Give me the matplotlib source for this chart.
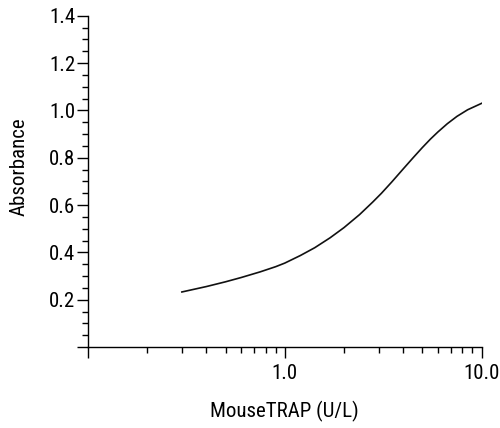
import matplotlib
matplotlib.use("Agg")
import matplotlib.pyplot as plt
from matplotlib.ticker import FixedLocator, MultipleLocator, NullFormatter

# values
conc = [0.3, 0.4, 0.5, 0.6, 0.75, 0.9, 1.0, 1.2, 1.42, 1.7, 2.0, 2.4, 2.8,
        3.1, 3.5, 4.0, 4.5, 5.0, 5.5, 6.0, 6.7, 7.5, 8.5, 10.0]
absorb = [0.233, 0.256, 0.276, 0.294, 0.318, 0.34, 0.355, 0.387, 0.42, 0.462,
          0.505, 0.56, 0.613, 0.65, 0.698, 0.753, 0.801, 0.843, 0.879, 0.909,
          0.944, 0.975, 1.003, 1.03]

x_major = [0.1, 1.0, 10.0]
x_labels = ["", "1.0", "10.0"]
y_major = [0.0, 0.2, 0.4, 0.6, 0.8, 1.0, 1.2, 1.4]
y_labels = ["", "0.2", "0.4", "0.6", "0.8", "1.0", "1.2", "1.4"]

plt.rcParams["font.family"] = ["Roboto Condensed", "DejaVu Sans"]
plt.rcParams["font.stretch"] = "condensed"

fig = plt.figure(figsize=(5.0, 4.28), dpi=100)
ax = fig.add_axes([0.176, 0.189, 0.787, 0.774])

ax.plot(conc, absorb, color="#111111", lw=1.2)

ax.set_xscale("log")
ax.set_xlim(0.1, 10)
ax.set_ylim(0, 1.4)

ax.xaxis.set_major_locator(FixedLocator(x_major))
ax.set_xticklabels(x_labels)
minors = [m * d for d in (0.1, 1.0) for m in range(2, 10)]
ax.xaxis.set_minor_locator(FixedLocator(minors))
ax.xaxis.set_minor_formatter(NullFormatter())

ax.set_yticks(y_major)
ax.set_yticklabels(y_labels)
ax.yaxis.set_minor_locator(MultipleLocator(0.05))

for s in ("top", "right"):
    ax.spines[s].set_visible(False)
for s in ("left", "bottom"):
    ax.spines[s].set_linewidth(1.0)

ax.tick_params(which="major", length=8, width=1.0, labelsize=15)
ax.tick_params(axis="y", which="major", pad=1)
ax.tick_params(axis="x", which="major", pad=4)
ax.tick_params(which="minor", length=4.5, width=1.0)

ax.set_xlabel("MouseTRAP (U/L)", fontsize=15, labelpad=13)
ax.set_ylabel("Absorbance", fontsize=15)
ax.yaxis.set_label_coords(-0.15, 0.544)

fig.savefig("out.png", dpi=100)
